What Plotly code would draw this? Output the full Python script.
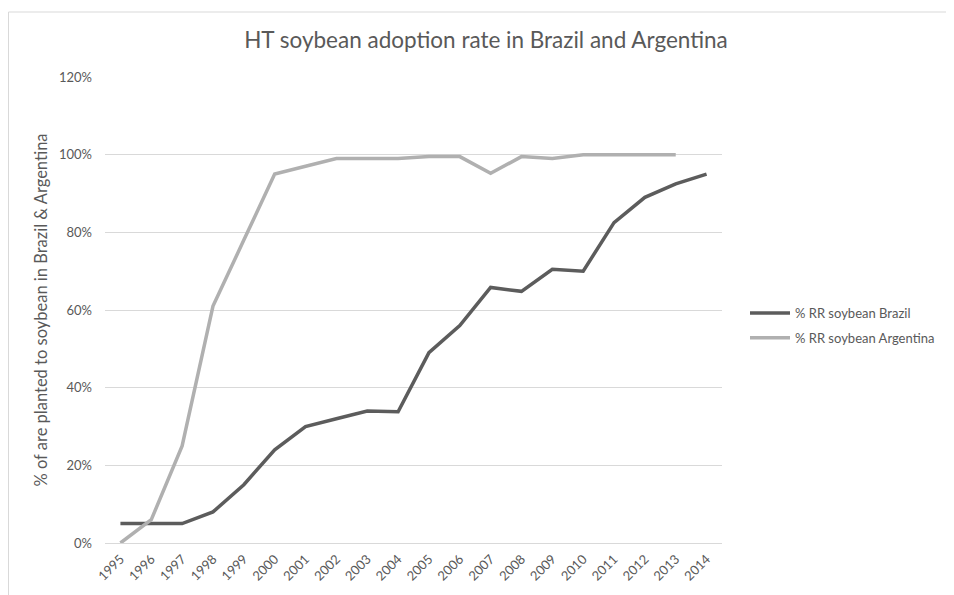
import plotly.graph_objects as go

years = [str(y) for y in range(1995, 2015)]
brazil = [0.05, 0.05, 0.05, 0.08, 0.15, 0.24, 0.30, 0.32, 0.34, 0.338, 0.49, 0.56, 0.658, 0.648, 0.705, 0.70, 0.825, 0.89, 0.925, 0.95]
argentina = [0.0, 0.06, 0.25, 0.61, 0.78, 0.95, 0.97, 0.99, 0.99, 0.99, 0.995, 0.995, 0.952, 0.995, 0.99, 1.0, 1.0, 1.0, 1.0, None]
y_ticks = [0, 0.2, 0.4, 0.6, 0.8, 1.0, 1.2]
y_labels = ["0%", "20%", "40%", "60%", "80%", "100%", "120%"]

FONT = "Lato, Open Sans, sans-serif"
TXT = "#595959"

fig = go.Figure()
fig.add_trace(go.Scatter(x=years, y=brazil, mode="lines", name="% RR soybean Brazil",
                         legendgroup="b", line=dict(color="#5c5c5c", width=3.5)))
fig.add_trace(go.Scatter(x=years, y=argentina, mode="lines", name="% RR soybean Argentina",
                         legendgroup="a", line=dict(color="#b0b0b0", width=3.5)))

# page is offset by 8px body margin
W, H = 946, 587
L, T = 97, 69
R = W - 714
B = H - 535
pw, ph = W - L - R, H - T - B

leg_top = 290
fig.update_layout(
    width=W, height=H,
    margin=dict(l=L, r=R, t=T, b=B),
    paper_bgcolor="white", plot_bgcolor="white",
    font=dict(family=FONT, color=TXT, size=13),
    title=dict(text="HT soybean adoption rate in Brazil and Argentina",
               x=478 / W, xanchor="center", y=1 - 32 / H, yanchor="middle",
               font=dict(size=22.5, color=TXT, family=FONT)),
    legend=dict(x=(737 - L) / pw, y=(T + ph - leg_top) / ph, xanchor="left", yanchor="top",
                font=dict(size=13, color=TXT), itemwidth=40, tracegroupgap=5,
                bgcolor="rgba(0,0,0,0)"),
    xaxis=dict(type="category", tickangle=-45, showgrid=False, showline=False,
               ticks="", tickfont=dict(size=13, color=TXT), range=[-0.5, 19.5],
               ticklabelstandoff=5),
    yaxis=dict(range=[0, 1.2], tickvals=y_ticks, ticktext=y_labels,
               showgrid=True, gridcolor="#d9d9d9", gridwidth=1, zeroline=True,
               zerolinecolor="#d9d9d9", zerolinewidth=1,
               showline=False, ticks="", ticklen=0, ticklabelstandoff=12,
               tickfont=dict(size=13, color=TXT),
               title=dict(text="% of are planted to soybean in Brazil & Argentina",
                          font=dict(size=16.5, color=TXT), standoff=7)),
    showlegend=True,
)

# chart border (light gray)
fig.add_shape(type="rect", xref="paper", yref="paper",
              x0=(0.5 - L) / pw, x1=(960 - L) / pw,
              y0=(T + ph - 600) / ph, y1=(T + ph - 4) / ph,
              line=dict(color="#d9d9d9", width=1), fillcolor="rgba(0,0,0,0)", layer="below")

fig.write_html("out.html")
